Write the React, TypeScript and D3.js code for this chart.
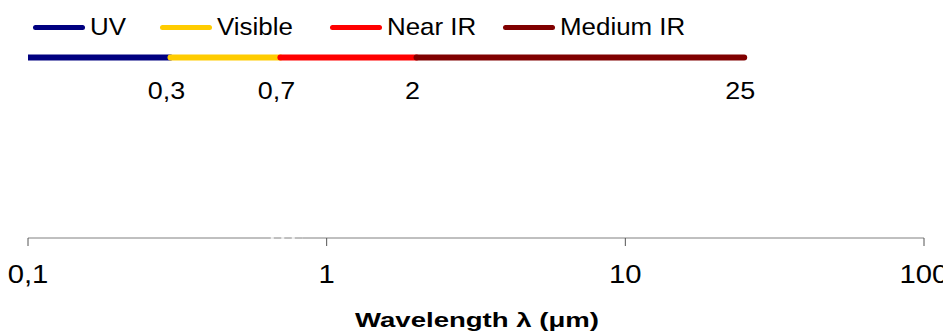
import React from "react";
import * as d3 from "d3";

const bands = ["UV", "Visible", "Near IR", "Medium IR"];
const bandStart = [0.1, 0.3, 0.7, 2];
const bandEnd = [0.3, 0.7, 2, 25];
const bandColors = ["#000080", "#FFCC00", "#FF0000", "#800000"];
const endLabels = ["0,3", "0,7", "2", "25"];
const tickValues = [0.1, 1, 10, 100];
const tickLabels = ["0,1", "1", "10", "100"];
const hiddenSeg = [0.65, 0.83];
const xTitle = "Wavelength λ (μm)";

const W = 943;
const H = 334;
const FONT = "'Liberation Sans', Arial, sans-serif";

// legend layout (left edge of each legend swatch)
const legendX = [33, 160, 330, 503];

export default function App() {
  const x = d3.scaleLog().domain([0.1, 100]).range([28, 924]);
  const axisY = 238;
  const barY = 57.5;

  const legendFontSize = 24;
  const legendStretch = 1.08;
  const numStretch = 1.17;

  return (
    <svg
      width={W}
      height={H}
      style={{ position: "absolute", left: 0, top: 0, background: "#fff" }}
      fontFamily={FONT}
    >
      <defs>
        <clipPath id="plot">
          <rect x={28} y={0} width={924 - 28} height={H} />
        </clipPath>
      </defs>
      {/* legend */}
      {bands.map((b, i) => (
        <g key={b}>
          <line
            x1={legendX[i] + 2.5}
            x2={legendX[i] + 52 - 2.5}
            y1={27.5}
            y2={27.5}
            stroke={bandColors[i]}
            strokeWidth={5}
            strokeLinecap="round"
          />
          <text
            transform={`translate(${legendX[i] + 57},35) scale(${legendStretch},1)`}
            fontSize={legendFontSize}
            fill="#000"
          >
            {b}
          </text>
        </g>
      ))}
      {/* spectrum bar */}
      <g clipPath="url(#plot)">
        {bands.map((b, i) => (
          <line
            key={b}
            x1={x(bandStart[i])}
            x2={x(bandEnd[i])}
            y1={barY}
            y2={barY}
            stroke={bandColors[i]}
            strokeWidth={6}
            strokeLinecap="round"
          />
        ))}
      </g>
      {endLabels.map((l, i) => (
        <text
          key={l}
          transform={`translate(${x(bandEnd[i]) - 4},99) scale(${numStretch},1)`}
          fontSize={23}
          textAnchor="middle"
          fill="#000"
        >
          {l}
        </text>
      ))}
      {/* axis */}
      <line x1={x(0.1)} x2={x(100)} y1={axisY} y2={axisY} stroke="#808080" strokeWidth={1} />
      <line
        x1={x(hiddenSeg[0])}
        x2={x(hiddenSeg[1])}
        y1={axisY}
        y2={axisY}
        stroke="#fff"
        strokeWidth={1.5}
        strokeDasharray="3 7.5"
      />
      {tickValues.map((t, i) => (
        <g key={t}>
          <line x1={x(t)} x2={x(t)} y1={axisY} y2={axisY + 8} stroke="#555" strokeWidth={1} />
          <text
            transform={`translate(${x(t)},283) scale(${numStretch},1)`}
            fontSize={25}
            textAnchor="middle"
            fill="#000"
          >
            {tickLabels[i]}
          </text>
        </g>
      ))}
      <text
        x={355}
        y={327}
        fontSize={20}
        fontWeight="bold"
        textLength={244}
        lengthAdjust="spacingAndGlyphs"
        fill="#000"
      >
        {xTitle}
      </text>
    </svg>
  );
}
